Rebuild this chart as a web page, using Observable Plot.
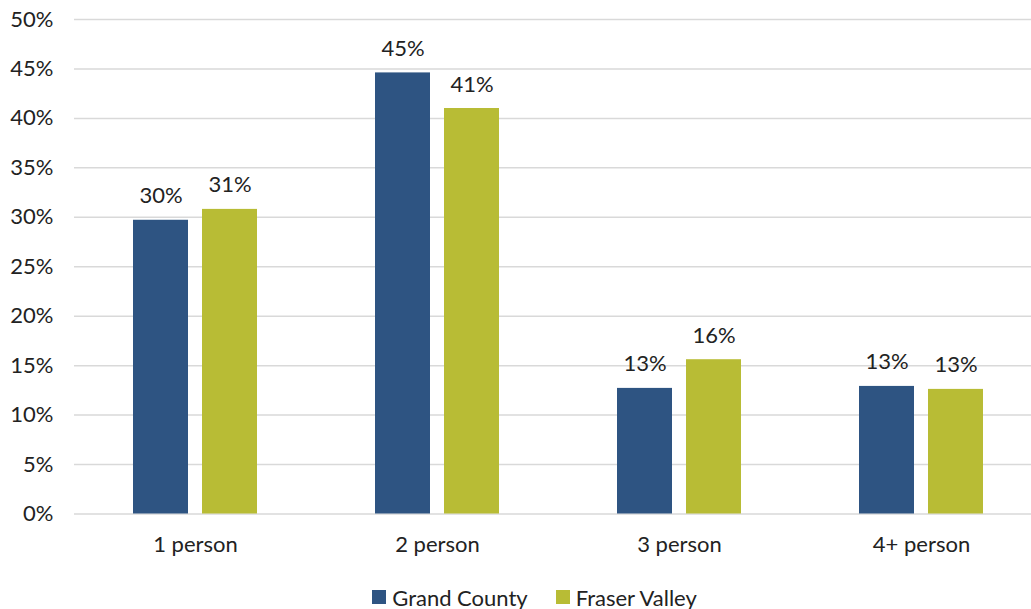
<!DOCTYPE html>
<html>
<head>
<meta charset="utf-8">
<script src="https://cdn.jsdelivr.net/npm/d3@7"></script>
<script src="https://cdn.jsdelivr.net/npm/@observablehq/plot@0.6"></script>
<style>
  html, body { margin: 0; padding: 0; background: #fff; }
  body { width: 1031px; height: 609px; overflow: hidden; font-family: Lato, "Open Sans", sans-serif; }
  #legend { display: flex; justify-content: center; align-items: center; height: 24px; padding-top: 15px; padding-left: 38px; font-size: 22px; color: #222; }
  .item { display: flex; align-items: center; margin: 0 14px; }
  .sw { width: 14px; height: 14px; margin-right: 6px; }
</style>
</head>
<body>
<div id="chart"></div>
<div id="legend"></div>
<script>
const categories = ["1 person", "2 person", "3 person", "4+ person"];
const series = ["Grand County", "Fraser Valley"];
const grandCounty = [29.7, 44.6, 12.7, 12.9];
const fraserValley = [30.8, 41.0, 15.6, 12.6];
const yTicks = [0, 5, 10, 15, 20, 25, 30, 35, 40, 45, 50];
const colors = ["#2E5482", "#B8BC35"];

const data = [];
categories.forEach((c, i) => {
  data.push({category: c, series: series[0], value: grandCounty[i]});
  data.push({category: c, series: series[1], value: fraserValley[i]});
});

const chart = Plot.plot({
  width: 1031,
  height: 570,
  marginTop: 19,
  marginBottom: 56.5,
  marginLeft: 74,
  marginRight: -11,
  style: {fontFamily: "Lato, 'Open Sans', sans-serif", fontSize: "22px", color: "#222", background: "#fff"},
  fx: {domain: categories, padding: 0, label: null, tickSize: 0, tickPadding: 22},
  x: {domain: series, paddingInner: 0.203, paddingOuter: 0.855, axis: null},
  y: {domain: [0, 50], ticks: yTicks, tickFormat: d => d + "%", tickSize: 0, tickPadding: 21, label: null},
  color: {domain: series, range: colors},
  marks: [
    Plot.ruleY(yTicks, {stroke: "#D9D9D9", strokeWidth: 1.5}),
    Plot.barY(data, {fx: "category", x: "series", y: "value", fill: "series"}),
    Plot.text(data, {fx: "category", x: "series", y: "value", text: d => Math.round(d.value) + "%", lineAnchor: "bottom", dy: -17, fill: "#222", fontSize: 22})
  ]
});
document.getElementById("chart").appendChild(chart);

const legend = document.getElementById("legend");
series.forEach((s, i) => {
  const item = document.createElement("div");
  item.className = "item";
  const sw = document.createElement("div");
  sw.className = "sw";
  sw.style.background = colors[i];
  const label = document.createElement("span");
  label.textContent = s;
  item.appendChild(sw);
  item.appendChild(label);
  legend.appendChild(item);
});
</script>
</body>
</html>
